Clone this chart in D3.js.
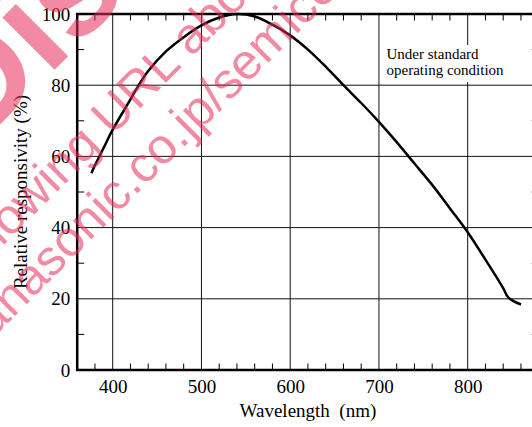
<!DOCTYPE html>
<html>
<head>
<meta charset="utf-8">
<script src="https://cdn.jsdelivr.net/npm/d3@7"></script>
<style>
  body { margin: 0; background: #fff; }
  svg { display: block; }
  text { font-family: "Liberation Serif", "Times New Roman", serif; fill: #000; }
</style>
</head>
<body>
<svg id="chart" width="532" height="427"></svg>
<script>
// Relative responsivity curve
var wavelength = [376, 380, 390, 400, 420, 430, 440, 460, 480, 500, 520, 540, 560, 580, 600,
                  620, 640, 660, 680, 700, 720, 740, 760, 780, 800, 820, 840, 846, 860];
var responsivity = [55.3, 57.5, 62.5, 67.5, 76, 80.3, 84, 89.5, 93.5, 96.8, 99, 100, 99.3, 97, 94,
                    90, 85.2, 80, 75, 69.7, 64, 58, 52, 45.4, 38.7, 31, 23, 20.3, 18.4];

var xMajor = [400, 500, 600, 700, 800];
var xMinor = [380, 420, 440, 460, 480, 520, 540, 560, 580, 620, 640, 660, 680,
              720, 740, 760, 780, 820, 840, 860];
var yMajor = [0, 20, 40, 60, 80, 100];
var yMinor = [10, 30, 50, 70, 90];
var note = ["Under standard", "operating condition"];
var watermark = ["Discontinued", "following URL about this product", "panasonic.co.jp/semicon/e-index.html"];

var svg = d3.select("#chart");
var x = d3.scaleLinear().domain([360, 880]).range([77.2, 538.7]);
var y = d3.scaleLinear().domain([0, 100]).range([370, 14]);

// grid
var grid = svg.append("g").attr("stroke", "#111").attr("stroke-width", 1);
grid.selectAll("line.v").data(xMajor).enter().append("line")
	.attr("x1", x).attr("x2", x).attr("y1", y(0)).attr("y2", y(100));
grid.selectAll("line.h").data(yMajor.slice(1, -1)).enter().append("line")
	.attr("x1", x(360)).attr("x2", x(880)).attr("y1", y).attr("y2", y);

// minor ticks (inside the frame)
var ticks = svg.append("g").attr("stroke", "#000").attr("stroke-width", 1);
ticks.selectAll("line.b").data(xMinor).enter().append("line")
	.attr("x1", x).attr("x2", x).attr("y1", y(0)).attr("y2", y(0) - 6.5);
ticks.selectAll("line.t").data(xMinor).enter().append("line")
	.attr("x1", x).attr("x2", x).attr("y1", y(100)).attr("y2", y(100) + 6.5);
ticks.selectAll("line.l").data(yMinor).enter().append("line")
	.attr("x1", x(360)).attr("x2", x(360) + 7).attr("y1", y).attr("y2", y);
ticks.selectAll("line.r").data(yMinor).enter().append("line")
	.attr("x1", x(880)).attr("x2", x(880) - 7).attr("y1", y).attr("y2", y);

// frame
svg.append("rect")
	.attr("x", x(360)).attr("y", y(100))
	.attr("width", x(880) - x(360)).attr("height", y(0) - y(100))
	.attr("fill", "none").attr("stroke", "#000").attr("stroke-width", 2.5);

// axes (labels only)
var xAxis = svg.append("g")
	.attr("transform", "translate(0," + y(0) + ")")
	.call(d3.axisBottom(x).tickValues(xMajor).tickSize(0).tickPadding(10));
var yAxis = svg.append("g")
	.attr("transform", "translate(" + x(360) + ",0)")
	.call(d3.axisLeft(y).tickValues(yMajor).tickSize(0).tickPadding(7));
[xAxis, yAxis].forEach(function(a) {
	a.select(".domain").remove();
	a.selectAll("text").attr("font-family", "Liberation Serif, serif").attr("font-size", 19).attr("fill", "#000");
});

svg.append("text")
	.attr("x", (x(360) + x(880)) / 2).attr("y", 416.7)
	.attr("text-anchor", "middle").attr("font-size", 19)
	.style("white-space", "pre")
	.text("Wavelength  (nm)");
svg.append("text")
	.attr("transform", "translate(27," + ((y(0) + y(100)) / 2) + ") rotate(-90)")
	.attr("text-anchor", "middle").attr("font-size", 19)
	.text("Relative responsivity (%)");

// curve
var line = d3.line()
	.x(function(d) { return x(d[0]); })
	.y(function(d) { return y(d[1]); })
	.curve(d3.curveCatmullRom.alpha(0.5));
svg.append("path")
	.datum(wavelength.map(function(w, i) { return [w, responsivity[i]]; }))
	.attr("fill", "none").attr("stroke", "#000").attr("stroke-width", 2.5)
	.attr("stroke-linejoin", "round")
	.attr("d", line);

// note with white background
svg.append("rect")
	.attr("x", 383).attr("y", 45).attr("width", 136).attr("height", 37)
	.attr("fill", "#fff");
svg.append("g").selectAll("text").data(note).enter().append("text")
	.attr("x", 386.5).attr("y", function(d, i) { return 59.3 + i * 15.7; })
	.attr("font-size", 15)
	.text(function(d) { return d; });

// pink watermark on top
var wm = svg.append("g")
	.attr("transform", "rotate(-45)")
	.attr("fill-opacity", 0.55);
var wmPos = [[-121.5, 88, 140, "bold"], [-226, 176, 50, "normal"], [-272, 234, 50, "normal"]];
wm.selectAll("text").data(watermark).enter().append("text")
	.attr("x", function(d, i) { return wmPos[i][0]; })
	.attr("y", function(d, i) { return wmPos[i][1]; })
	.attr("font-size", function(d, i) { return wmPos[i][2]; })
	.attr("font-weight", function(d, i) { return wmPos[i][3]; })
	.style("font-family", "Liberation Sans, Arial, sans-serif")
	.style("fill", "#e62a55")
	.text(function(d) { return d; });
</script>
</body>
</html>
